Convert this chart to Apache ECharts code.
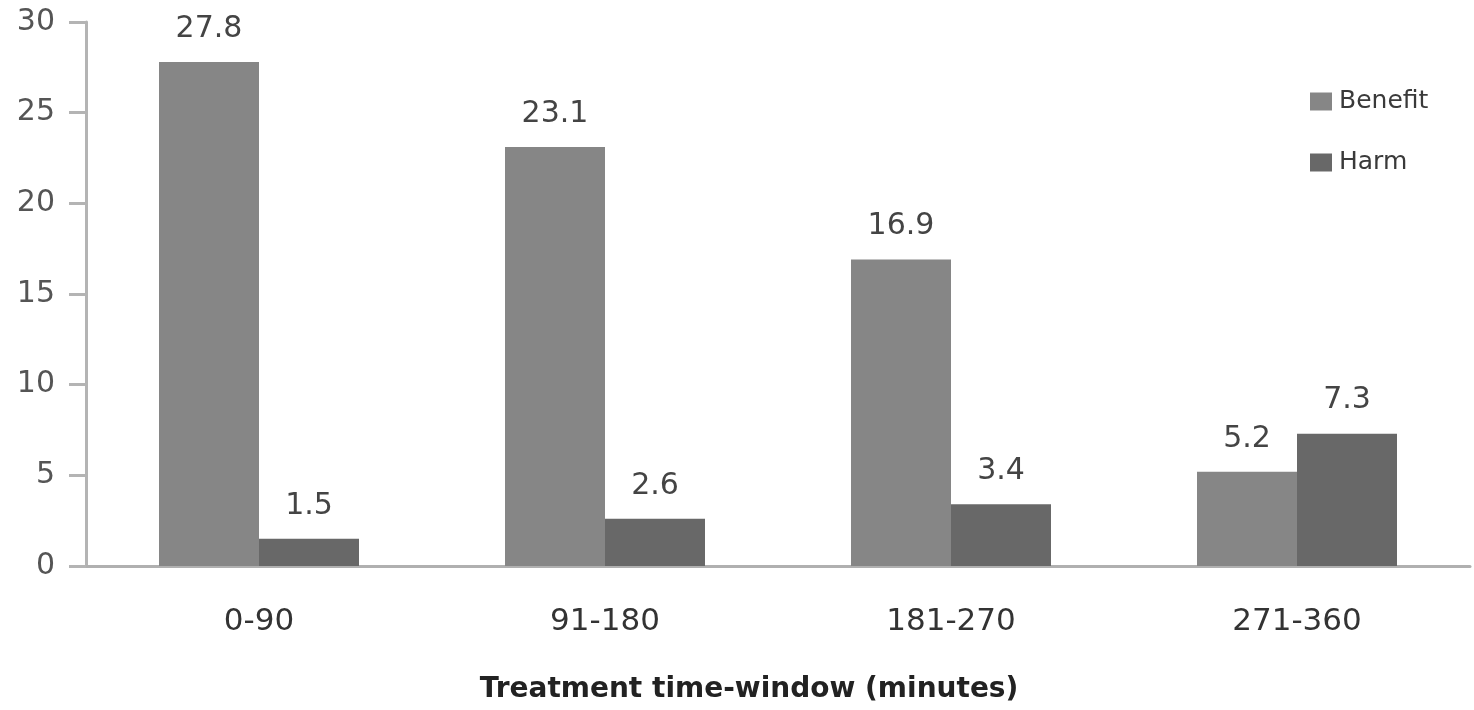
<!DOCTYPE html>
<html>
<head>
<meta charset="utf-8">
<title>Benefit and harm by treatment time-window</title>
<script src="https://cdn.jsdelivr.net/npm/echarts@6/dist/echarts.min.js"></script>
<style>
  html, body { margin: 0; padding: 0; background: #fff; }
  #chart { width: 1474px; height: 710px; }
</style>
</head>
<body>
<div id="chart"></div>
<script>
// Treatment time-windows (minutes)
const categories = ['0-90', '91-180', '181-270', '271-360'];
// Values per window
const benefit = [27.8, 23.1, 16.9, 5.2];
const harm = [1.5, 2.6, 3.4, 7.3];
// Value axis ticks
const yMin = 0, yMax = 30, yStep = 5;

const FONT = '"DejaVu Sans", "Liberation Sans", sans-serif';

const chart = echarts.init(document.getElementById('chart'));

const labelStyle = {
  show: true,
  position: 'top',
  distance: 18,
  color: '#444',
  fontSize: 30,
  fontFamily: FONT,
  formatter: p => p.value.toFixed(1)
};

chart.setOption({
  animation: false,
  backgroundColor: '#ffffff',
  grid: { left: 86, right: 4, top: 22, bottom: 144, outerBoundsMode: 'none', containLabel: false },
  legend: {
    orient: 'vertical',
    left: 1305,
    top: 84,
    itemWidth: 22,
    itemHeight: 18,
    itemGap: 36,
    icon: 'rect',
    textStyle: { color: '#3a3a3a', fontSize: 25, fontFamily: FONT, padding: [0, 0, 0, 2] },
    data: ['Benefit', 'Harm']
  },
  xAxis: {
    type: 'category',
    data: categories,
    name: 'Treatment time-window (minutes)',
    nameLocation: 'middle',
    nameGap: 110,
    nameTextStyle: {
      color: '#222', fontSize: 28, fontWeight: 'bold', fontFamily: FONT,
      padding: [0, 58, 0, 0]
    },
    axisLine: { lineStyle: { color: '#b0b0b0', width: 3 } },
    axisTick: { show: false },
    axisLabel: { color: '#333', fontSize: 31, margin: 40, fontFamily: FONT }
  },
  yAxis: {
    type: 'value',
    min: yMin,
    max: yMax,
    interval: yStep,
    axisLine: { show: true, lineStyle: { color: '#b4b4b4', width: 3 } },
    axisTick: { show: true, length: 17, lineStyle: { color: '#b4b4b4', width: 3 } },
    splitLine: { show: false },
    axisLabel: { color: '#555', fontSize: 30, margin: 31, fontFamily: FONT }
  },
  series: [
    {
      name: 'Benefit',
      type: 'bar',
      data: benefit,
      barWidth: 100,
      barGap: '0%',
      itemStyle: { color: '#868686' },
      label: labelStyle
    },
    {
      name: 'Harm',
      type: 'bar',
      data: harm,
      barWidth: 100,
      itemStyle: { color: '#686868' },
      label: labelStyle
    }
  ]
});
</script>
</body>
</html>
